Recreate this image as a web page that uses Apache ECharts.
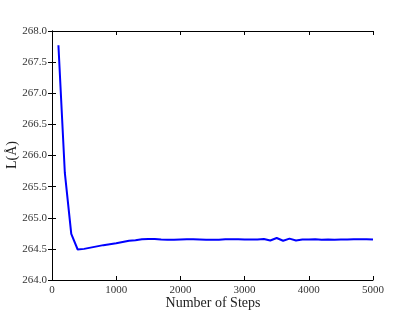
<!DOCTYPE html>
<html>
<head>
<meta charset="utf-8">
<script src="https://cdn.jsdelivr.net/npm/echarts@6/dist/echarts.min.js"></script>
<style>
  html, body { margin: 0; padding: 0; background: #fff; }
  #chart { width: 415px; height: 312px; }
</style>
</head>
<body>
<div id="chart"></div>
<script>
// steps (x) and box length L (y)
const steps = [
  100, 200, 300, 400, 500, 600, 700, 800, 900, 1000,
  1100, 1200, 1300, 1400, 1500, 1600, 1700, 1800, 1900, 2000,
  2100, 2200, 2300, 2400, 2500, 2600, 2700, 2800, 2900, 3000,
  3100, 3200, 3300, 3400, 3500, 3600, 3700, 3800, 3900, 4000,
  4100, 4200, 4300, 4400, 4500, 4600, 4700, 4800, 4900, 5000
];
const lengths = [
  267.77, 265.72, 264.74, 264.49, 264.50, 264.52, 264.54, 264.56, 264.575, 264.59,
  264.61, 264.63, 264.64, 264.655, 264.66, 264.66, 264.65, 264.645, 264.645, 264.65,
  264.655, 264.655, 264.65, 264.645, 264.645, 264.645, 264.655, 264.655, 264.655, 264.65,
  264.65, 264.65, 264.66, 264.635, 264.675, 264.63, 264.665, 264.635, 264.65, 264.65,
  264.655, 264.645, 264.65, 264.645, 264.65, 264.65, 264.655, 264.655, 264.655, 264.65
];
const xTitle = 'Number of Steps';
const yTitle = 'L(Å)';

const font = 'Liberation Serif';
const frame = { show: true, lineStyle: { color: '#000', width: 1 } };
const tickIn = { show: true, inside: true, length: 4, lineStyle: { color: '#000', width: 1 } };
const titleStyle = { fontFamily: font, fontSize: 14, fill: '#222', align: 'center', verticalAlign: 'middle' };

const chart = echarts.init(document.getElementById('chart'));
chart.setOption({
  animation: false,
  grid: { left: 52, top: 31, right: 42, bottom: 32, outerBoundsMode: 'none', containLabel: false },
  // axis titles placed by hand
  graphic: [
    { type: 'text', x: 213, y: 303, style: Object.assign({ text: xTitle }, titleStyle) },
    { type: 'text', x: 12, y: 155, rotation: Math.PI / 2, style: Object.assign({ text: yTitle }, titleStyle) }
  ],
  xAxis: [
    {
      type: 'value', min: 0, max: 5000, interval: 1000,
      axisLine: frame, axisTick: tickIn, splitLine: { show: false },
      axisLabel: { fontFamily: font, fontSize: 11, color: '#333', margin: 5, formatter: v => String(v) }
    },
    {
      type: 'value', position: 'top', min: 0, max: 5000, interval: 1000,
      axisLine: frame, axisTick: tickIn, splitLine: { show: false },
      axisLabel: { show: false }
    }
  ],
  yAxis: [
    {
      type: 'value', min: 264, max: 268, interval: 0.5,
      axisLine: frame, axisTick: tickIn, splitLine: { show: false },
      axisLabel: {
        fontFamily: font, fontSize: 11, color: '#333', margin: 5,
        formatter: v => v.toFixed(1)
      }
    },
    {
      type: 'value', position: 'right', min: 264, max: 268, interval: 0.5,
      axisLine: frame, axisTick: tickIn, splitLine: { show: false },
      axisLabel: { show: false }
    }
  ],
  series: [
    {
      type: 'line',
      data: steps.map((s, i) => [s, lengths[i]]),
      showSymbol: false,
      lineStyle: { color: '#0000ff', width: 2 },
      itemStyle: { color: '#0000ff' }
    }
  ]
});
</script>
</body>
</html>
